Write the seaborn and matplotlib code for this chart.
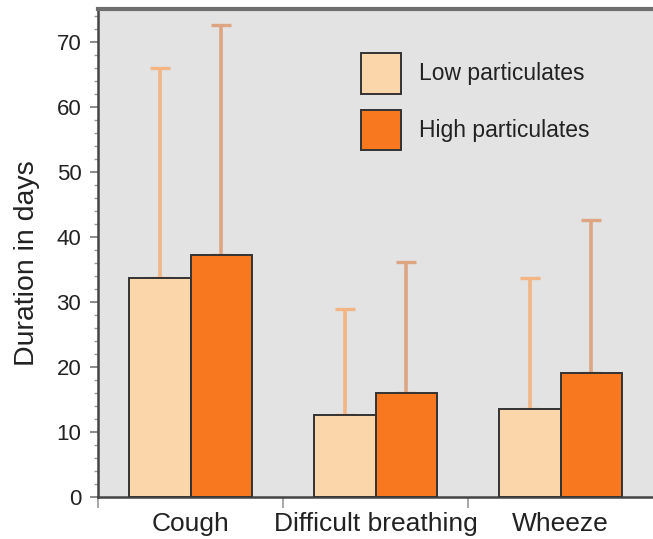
import matplotlib
matplotlib.use("Agg")
import matplotlib.pyplot as plt
from matplotlib.patches import Patch
from matplotlib.ticker import MultipleLocator, FixedLocator
import seaborn as sns
import pandas as pd
import numpy as np

# values
symptoms = ["Cough", "Difficult breathing", "Wheeze"]
groups = ["Low particulates", "High particulates"]
low_mean = [33.6, 12.6, 13.5]
high_mean = [37.2, 16.0, 19.0]
low_upper = [66.0, 28.9, 33.6]
high_upper = [72.5, 36.1, 42.5]

bar_cols = ["#fcd6ab", "#f7781e"]
err_cols = ["#f2b583", "#dea583"]

df = pd.DataFrame({
    "symptom": symptoms * 2,
    "group": [groups[0]] * 3 + [groups[1]] * 3,
    "days": low_mean + high_mean,
})

sns.set_style("white")
plt.rcParams["font.family"] = ["Liberation Sans", "DejaVu Sans"]

fig = plt.figure(figsize=(6.53, 5.39), dpi=100)
ax = fig.add_axes([98 / 653, 1 - 497 / 539, 1 - 98 / 653, (497 - 9) / 539])
ax.set_facecolor("#e3e3e3")

sns.barplot(data=df, x="symptom", y="days", hue="group", palette=bar_cols,
            saturation=1, width=0.667, edgecolor="#333333", linewidth=1.4,
            ax=ax, legend=False, errorbar=None, zorder=3)

# upward-only error bars
bar_conts = list(ax.containers)
uppers = [low_upper, high_upper]
means = [low_mean, high_mean]
for i, cont in enumerate(bar_conts):
    xs = [b.get_x() + b.get_width() / 2 for b in cont]
    m = np.array(means[i])
    up = np.array(uppers[i]) - m
    ax.errorbar(xs, m, yerr=[np.zeros_like(up), up], fmt="none",
                ecolor=err_cols[i], elinewidth=2.6, capsize=7, capthick=2.4,
                zorder=2)

ax.set_xlim(-0.5, 2.5)
ax.set_ylim(0, 75)
ax.yaxis.set_major_locator(MultipleLocator(10))
ax.yaxis.set_minor_locator(MultipleLocator(2))
ax.tick_params(axis="y", which="major", direction="out", length=6, width=1.2,
               color="#777777", labelsize=16, labelcolor="#222222", pad=6, left=True)
ax.tick_params(axis="y", which="minor", direction="out", length=3, width=1.0,
               color="#999999", left=True)
ax.xaxis.set_minor_locator(FixedLocator([-0.5, 0.5, 1.5]))
ax.tick_params(axis="x", which="major", length=0, labelsize=19,
               labelcolor="#222222", pad=11)
ax.tick_params(axis="x", which="minor", direction="out", length=8, width=1.2,
               color="#999999", bottom=True)

ax.set_xlabel("")
ax.set_ylabel("Duration in days", fontsize=20.5, color="#222222")
ax.yaxis.set_label_coords(-0.105, 0.48)

for s in ["left", "bottom"]:
    ax.spines[s].set_color("#444444")
    ax.spines[s].set_linewidth(1.8)
ax.spines["top"].set_color("#6e6e6e")
ax.spines["top"].set_linewidth(3)
ax.spines["right"].set_visible(False)

handles = [Patch(facecolor=c, edgecolor="#333333", linewidth=1.4) for c in bar_cols]
ax.legend(handles, groups, loc="upper left",
          bbox_to_anchor=(361 / 653, 1 - 53 / 539), bbox_transform=fig.transFigure,
          frameon=False, fontsize=16.5, handlelength=1.75, handleheight=2.35,
          handletextpad=0.8, labelspacing=0.7, borderpad=0, borderaxespad=0,
          labelcolor="#222222")

fig.savefig("out.png", dpi=100)
